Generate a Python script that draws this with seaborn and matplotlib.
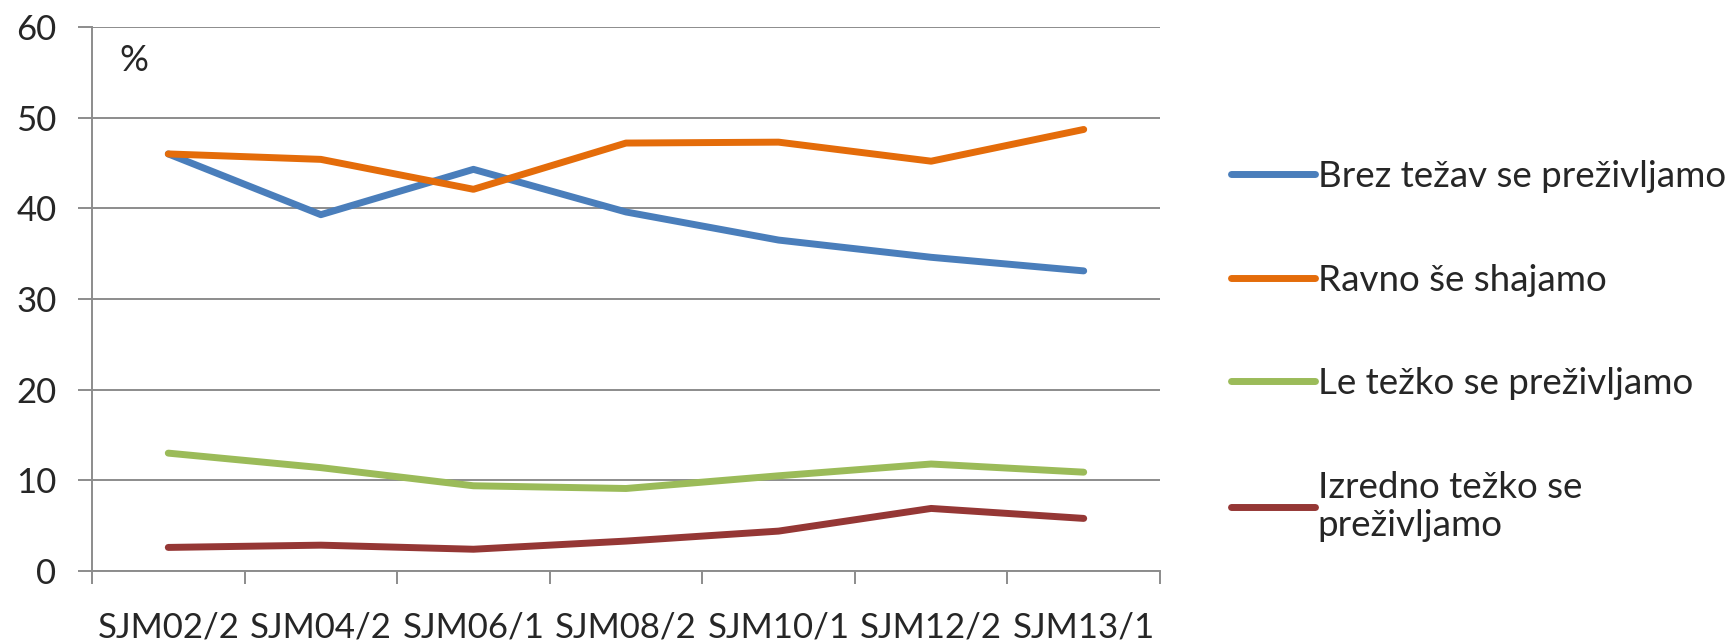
import matplotlib
matplotlib.use("Agg")
import matplotlib.pyplot as plt
import seaborn as sns
import pandas as pd
import numpy as np

categories = ["SJM02/2", "SJM04/2", "SJM06/1", "SJM08/2", "SJM10/1", "SJM12/2", "SJM13/1"]
brez_tezav = [46.0, 39.3, 44.3, 39.6, 36.5, 34.6, 33.1]
ravno_se = [46.0, 45.4, 42.1, 47.2, 47.3, 45.2, 48.7]
le_tezko = [13.0, 11.4, 9.4, 9.1, 10.5, 11.8, 10.9]
izredno_tezko = [2.6, 2.85, 2.4, 3.3, 4.4, 6.9, 5.8]
series_names = ["Brez težav se preživljamo", "Ravno še shajamo",
                "Le težko se preživljamo", "Izredno težko se\npreživljamo"]
series_values = [brez_tezav, ravno_se, le_tezko, izredno_tezko]
colors = ["#4A7EBB", "#E46C0A", "#9BBB59", "#953735"]
y_ticks = [0, 10, 20, 30, 40, 50, 60]

rows = []
for name, vals in zip(series_names, series_values):
    for i, v in enumerate(vals):
        rows.append({"pos": i, "value": v, "series": name})
df = pd.DataFrame(rows)

sns.set_theme(style="white")
plt.rcParams['font.family'] = ['Lato', 'DejaVu Sans']

W, H = 1733, 641
fig = plt.figure(figsize=(W / 100, H / 100), dpi=100)
ax = fig.add_axes([92 / W, 1 - 571 / H, (1160 - 92) / W, (571 - 27) / H])

sns.lineplot(data=df, x="pos", y="value", hue="series", hue_order=series_names,
             palette=colors, linewidth=5, ax=ax, legend=True, sort=False,
             solid_capstyle="round", solid_joinstyle="round")

ax.set_xlim(-0.5, len(categories) - 0.5)
ax.set_ylim(0, 60)
ax.set_yticks(y_ticks)
ax.set_yticklabels([str(t) for t in y_ticks], fontsize=25)
ax.yaxis.grid(True, color="#8C8C8C", linewidth=1.4)
ax.set_axisbelow(True)

# Excel-style category axis: tick marks between categories, labels centered
ax.set_xticks(np.arange(-0.5, len(categories), 1.0))
ax.set_xticklabels([])
ax.set_xticks(np.arange(len(categories)), minor=True)
ax.set_xticklabels(categories, minor=True, fontsize=25)
ax.tick_params(axis="x", which="major", length=9, width=1.4, color="#8C8C8C", direction="out", bottom=True)
ax.tick_params(axis="x", which="minor", length=0, pad=29)
ax.tick_params(axis="y", length=10, width=1.4, color="#8C8C8C", direction="out", left=True, pad=15.5)

for s in ["top", "right"]:
    ax.spines[s].set_visible(False)
for s in ["left", "bottom"]:
    ax.spines[s].set_color("#8C8C8C")
    ax.spines[s].set_linewidth(1.4)

ax.set_xlabel("")
ax.set_ylabel("")
ax.text(0.039, 0.939, "%", transform=ax.transAxes, fontsize=26, ha="center", va="center")

handles, labels = ax.get_legend_handles_labels()
ax.legend(handles, labels, loc="upper left", bbox_to_anchor=(1231 / W, 1 - 160 / H),
          bbox_transform=fig.transFigure, frameon=False, fontsize=26.5,
          borderpad=0, borderaxespad=0,
          handlelength=2.28, handletextpad=0.08, labelspacing=1.92)

fig.savefig("out.png", dpi=100)
